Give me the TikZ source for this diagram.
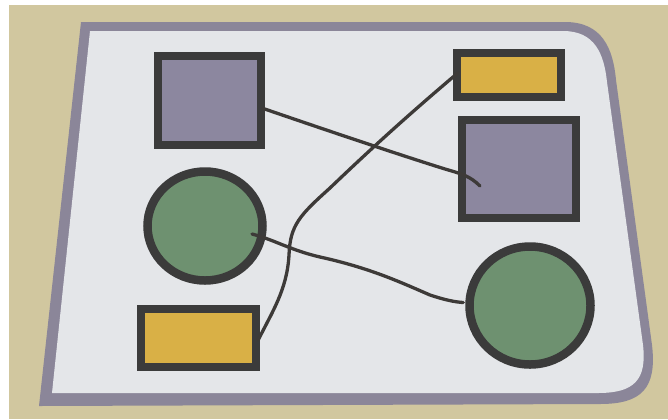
\documentclass[tikz,border=0pt]{standalone}
\usetikzlibrary{shapes.geometric}
\definecolor{WSWood}{HTML}{D1C79F}
\definecolor{WSFrame}{HTML}{8B8699}
\definecolor{WSPaper}{HTML}{E4E6E9}
\definecolor{WSInk}{HTML}{3B3B3B}
\definecolor{WSPen}{HTML}{3D3A38}
\definecolor{WSLilac}{HTML}{8C879F}
\definecolor{WSGold}{HTML}{D9B046}
\definecolor{WSMoss}{HTML}{6E9170}

\begin{document}
\begin{tikzpicture}[x=1bp,y=-1bp,
  card/.style={draw=WSInk,line width=8.5bp,inner sep=0pt},
  boxcard/.style={card,rectangle},
  disccard/.style={card,ellipse},
  pen/.style={draw=WSPen,line width=3.3bp,line cap=round,line join=round}]
  \fill[white] (0,0) rectangle (668,419);
  \fill[WSWood] (9,5) rectangle (668,419);
  \useasboundingbox (0,0) rectangle (668,419);
  \fill[WSFrame] (81,22) -- (565,22) .. controls (602,22) and (613,48) .. (616,80)
    -- (652,345) .. controls (657,388) and (642,404) .. (600,404) -- (39,406) -- cycle;
  \fill[WSPaper] (90,31) -- (563,31) .. controls (595,31) and (604,54) .. (607,82)
    -- (643,345) .. controls (647,380) and (634,393) .. (598,393) -- (52,393) -- cycle;
  \node[boxcard,fill=WSLilac,minimum width=103bp,minimum height=89bp] (sqTL) at (209.5,100.5) {};
  \node[boxcard,fill=WSGold,minimum width=104bp,minimum height=44bp] (ylwTR) at (509,75) {};
  \node[boxcard,fill=WSLilac,minimum width=114bp,minimum height=98bp] (sqR) at (519,169) {};
  \node[disccard,fill=WSMoss,minimum width=115bp,minimum height=109bp] (grnL) at (205,226) {};
  \node[boxcard,fill=WSGold,minimum width=115bp,minimum height=58bp] (ylwBL) at (198.5,338) {};
  \node[disccard,fill=WSMoss,minimum width=121bp,minimum height=118bp] (grnR) at (530,305.5) {};
  \coordinate (penA) at (480,186);
  \coordinate (penC) at (252,234);
  \draw[pen] ([xshift=-2bp,yshift=-8bp]sqTL.east) .. controls (320,128) and (400,155) .. (445,169)
    .. controls (462,174) and (470,176) .. (penA);
  \draw[pen] ([xshift=-2bp,yshift=-2bp]ylwBL.east) .. controls (272,312) and (287,290) .. (289,255)
    .. controls (290,225) and (300,215) .. (330,188)
    .. controls (380,140) and (420,105) .. ([xshift=5bp,yshift=2bp]ylwTR.west);
  \draw[pen] (penC) .. controls (275,240) and (290,250) .. (320,257)
    .. controls (370,268) and (400,282) .. (430,295)
    .. controls (445,300) and (455,302) .. ([xshift=-2bp,yshift=3bp]grnR.west);
\end{tikzpicture}
\end{document}
